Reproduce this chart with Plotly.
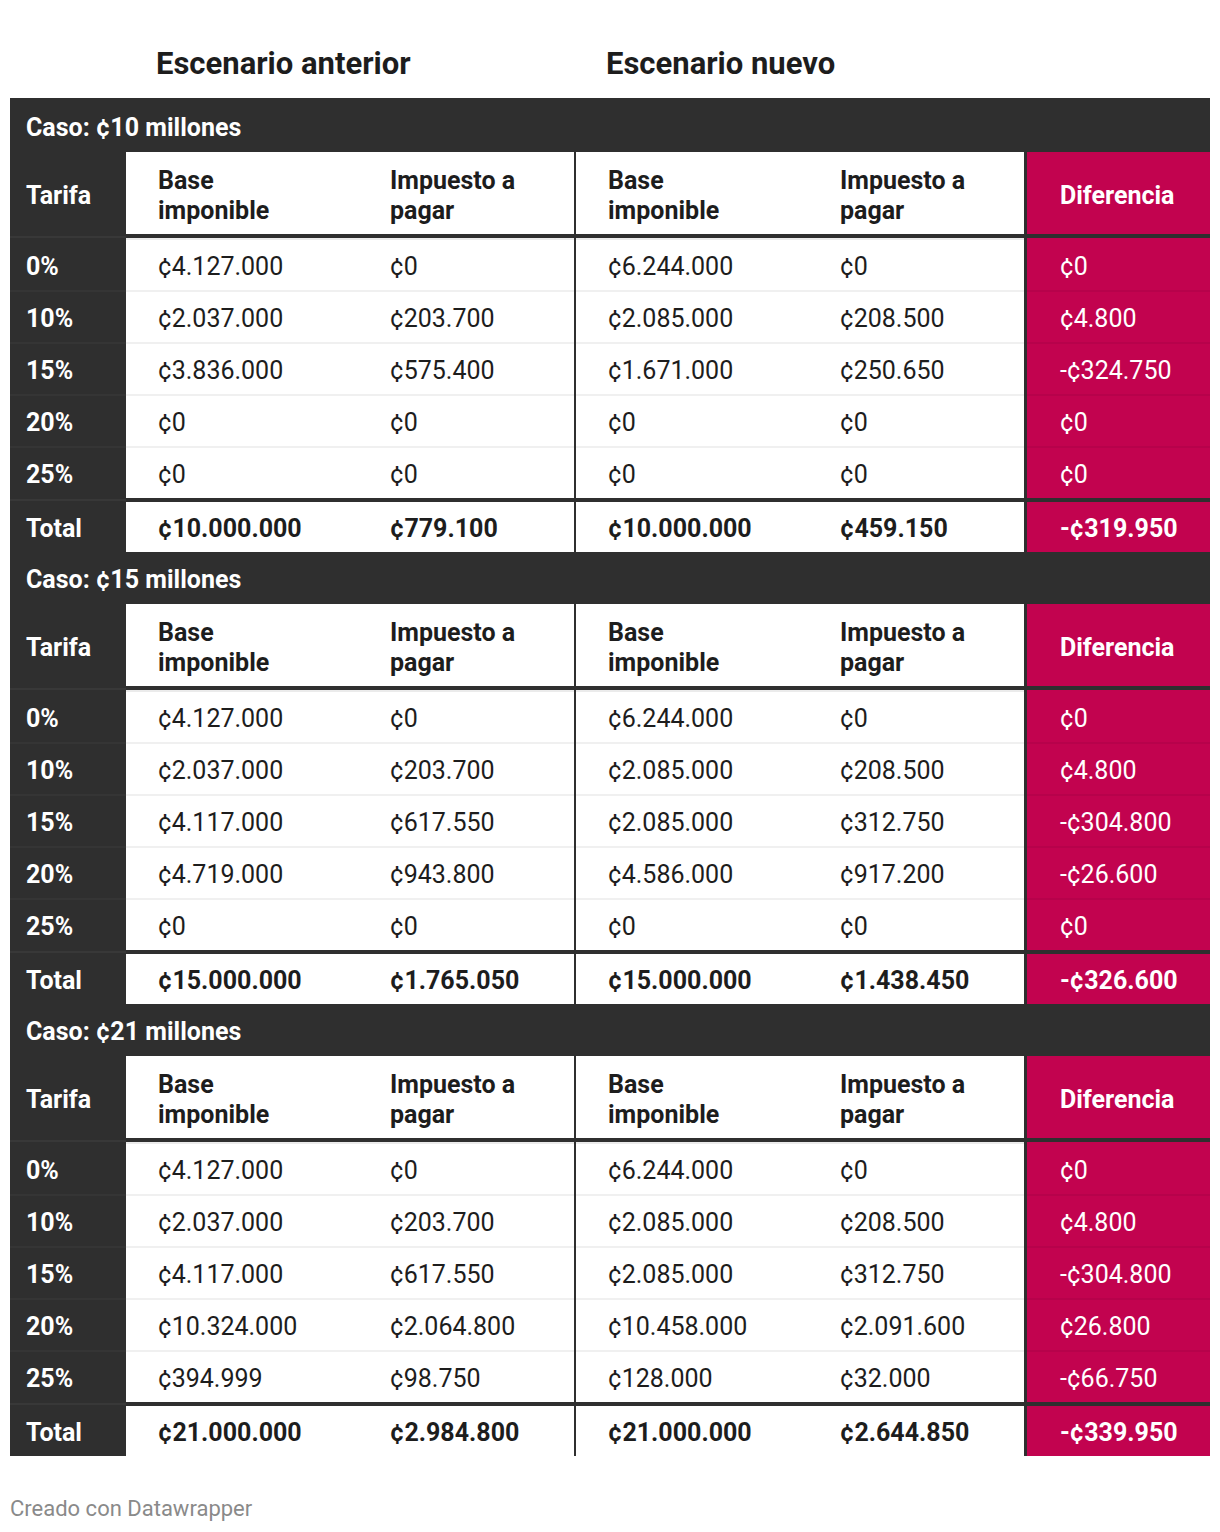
import plotly.graph_objects as go

# ---------------- data ----------------
tarifas = ["0%", "10%", "15%", "20%", "25%"]
case_labels = ["Caso: ¢10 millones", "Caso: ¢15 millones", "Caso: ¢21 millones"]
scenario_titles = ["Escenario anterior", "Escenario nuevo"]
col_headers = [["Base", "imponible"], ["Impuesto a", "pagar"],
               ["Base", "imponible"], ["Impuesto a", "pagar"]]

base_anterior = [
    [4127000, 2037000, 3836000, 0, 0],
    [4127000, 2037000, 4117000, 4719000, 0],
    [4127000, 2037000, 4117000, 10324000, 394999],
]
imp_anterior = [
    [0, 203700, 575400, 0, 0],
    [0, 203700, 617550, 943800, 0],
    [0, 203700, 617550, 2064800, 98750],
]
base_nuevo = [
    [6244000, 2085000, 1671000, 0, 0],
    [6244000, 2085000, 2085000, 4586000, 0],
    [6244000, 2085000, 2085000, 10458000, 128000],
]
imp_nuevo = [
    [0, 208500, 250650, 0, 0],
    [0, 208500, 312750, 917200, 0],
    [0, 208500, 312750, 2091600, 32000],
]
diferencia = [
    [0, 4800, -324750, 0, 0],
    [0, 4800, -304800, -26600, 0],
    [0, 4800, -304800, 26800, -66750],
]
total_base_anterior = [10000000, 15000000, 21000000]
total_imp_anterior = [779100, 1765050, 2984800]
total_base_nuevo = [10000000, 15000000, 21000000]
total_imp_nuevo = [459150, 1438450, 2644850]
total_diferencia = [-319950, -326600, -339950]

# ---------------- style / layout constants ----------------
W, H = 1220, 1532
DARK = "#2f2f2f"
PINK = "#c2034f"
PINK_SEP = "#b3034a"
TXT = "#1d1d1d"
LIGHT = "#ebebeb"
FONT = "Roboto"
FS = 25

X0, X_TAR, X_MID, X_DIF, X1 = 10, 126, 575, 1024, 1210
COL_X = [158, 390, 608, 840]
DIF_X = 1060
LAB_X = 26
BLOCK_TOP = [100, 552, 1004]
ROW_H = 52


def fmt(v):
    s = f"{abs(v):,}".replace(",", ".")
    return ("-" if v < 0 else "") + "¢" + s


shapes = []
annotations = []


def rect(x0, x1, y0, y1, color):
    shapes.append(dict(type="rect", xref="x", yref="y", x0=x0, x1=x1, y0=y0, y1=y1,
                       fillcolor=color, line=dict(width=0), layer="below"))


def text(x, y, t, color=TXT, bold=False, size=FS):
    annotations.append(dict(x=x - 2, y=y, xref="x", yref="y", text=t, showarrow=False,
                            xanchor="left", yanchor="middle", align="left",
                            font=dict(family=FONT, size=size, color=color,
                                      weight=700 if bold else 400)))


# titles
text(156, 63, scenario_titles[0], bold=True, size=31)
text(606, 63, scenario_titles[1], bold=True, size=31)

for i, B in enumerate(BLOCK_TOP):
    band_top = B - 2 if i == 0 else B
    # case band
    rect(X0, X1, band_top, B + 52, DARK)
    text(LAB_X, B + 27, case_labels[i], color="white", bold=True)
    # columns
    rect(X0, X_TAR, B + 52, B + 452, DARK)
    rect(X_DIF, X1, B + 52, B + 452, PINK)
    # row separators
    for k in range(4):
        y = B + 191 + ROW_H * k
        rect(X_TAR, X_DIF, y - 0.75, y + 0.75, LIGHT)
        rect(X_DIF, X1, y - 0.75, y + 0.75, PINK_SEP)
        rect(X0, X_TAR, y - 0.75, y + 0.75, "#383838")
    rect(X_TAR, X_DIF, B + 138, B + 140, LIGHT)
    rect(X0, X_TAR, B + 136, B + 138, "#383838")
    rect(X0, X_TAR, B + 399, B + 401, "#383838")
    # thick horizontal lines
    rect(X_TAR, X1, B + 134, B + 138, DARK)
    rect(X_TAR, X1, B + 398, B + 402, DARK)
    # vertical lines
    rect(X_MID - 1, X_MID + 1, B + 52, B + 452, DARK)
    rect(X_DIF, X_DIF + 3, B + 52, B + 452, DARK)

    # header
    yh = B + 95
    text(LAB_X, yh, "Tarifa", color="white", bold=True)
    for cx, (l1, l2) in zip(COL_X, col_headers):
        text(cx, yh - 15, l1, bold=True)
        text(cx, yh + 15, l2, bold=True)
    text(DIF_X, yh, "Diferencia", color="white", bold=True)

    # rows
    for k, tf in enumerate(tarifas):
        y = B + 166 + ROW_H * k
        text(LAB_X, y, tf, color="white", bold=True)
        vals = [base_anterior[i][k], imp_anterior[i][k], base_nuevo[i][k], imp_nuevo[i][k]]
        for cx, v in zip(COL_X, vals):
            text(cx, y, fmt(v))
        text(DIF_X, y, fmt(diferencia[i][k]), color="white")

    # total
    yt = B + 428
    text(LAB_X, yt, "Total", color="white", bold=True)
    tvals = [total_base_anterior[i], total_imp_anterior[i], total_base_nuevo[i], total_imp_nuevo[i]]
    for cx, v in zip(COL_X, tvals):
        text(cx, yt, fmt(v), bold=True)
    text(DIF_X, yt, fmt(total_diferencia[i]), color="white", bold=True)

# footer
text(10, 1508, "Creado con Datawrapper", color="#8a8a8a", size=22)

fig = go.Figure()
fig.update_layout(
    width=W, height=H,
    margin=dict(l=0, r=0, t=0, b=0),
    paper_bgcolor="white", plot_bgcolor="white",
    xaxis=dict(range=[0, W], visible=False, fixedrange=True),
    yaxis=dict(range=[H, 0], visible=False, fixedrange=True),
    shapes=shapes, annotations=annotations,
    showlegend=False,
)
fig.write_html("out.html", config={"displayModeBar": False},
               post_script="document.body.style.margin='0';document.body.style.overflow='hidden';")
